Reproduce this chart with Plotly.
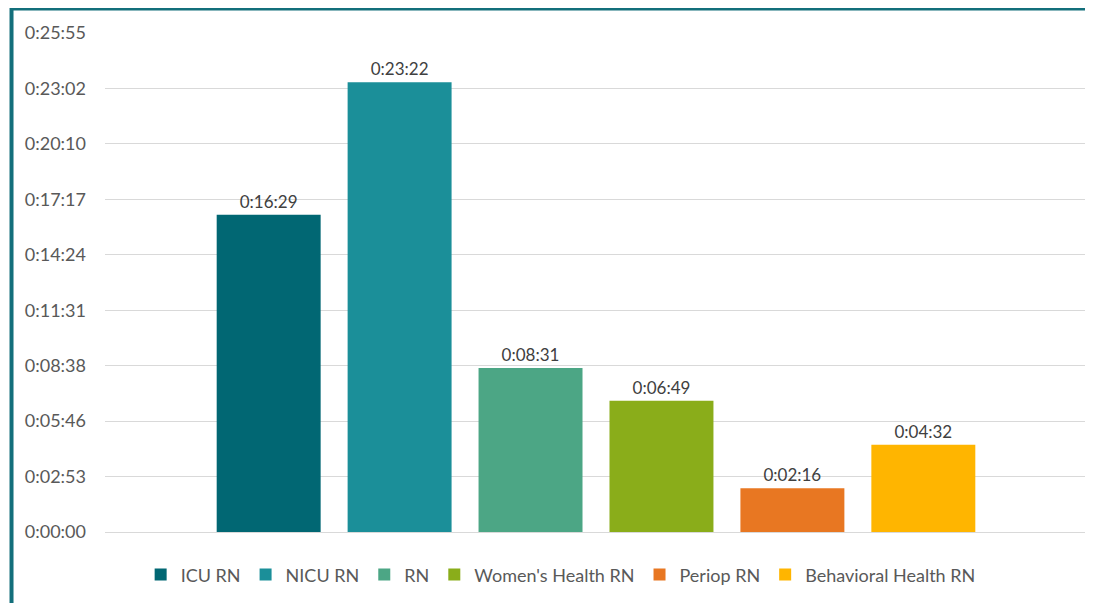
import plotly.graph_objects as go

# Tiempos promedio por rol (en segundos)
roles = ["ICU RN", "NICU RN", "RN", "Women's Health RN", "Periop RN", "Behavioral Health RN"]
segundos = [989, 1402, 511, 409, 136, 272]
colores = ["#016773", "#1B8F99", "#4CA685", "#8AAD1A", "#E87722", "#FFB500"]

# Marcas del eje y (paso de 0.002 días, como en Excel)
ticks_y = [0, 172.8, 345.6, 518.4, 691.2, 864.0, 1036.8, 1209.6, 1382.4, 1555.2]
etiquetas_y = ["0:00:00", "0:02:53", "0:05:46", "0:08:38", "0:11:31",
               "0:14:24", "0:17:17", "0:20:10", "0:23:02", "0:25:55"]


def hms(s):
    s = int(round(s))
    return "%d:%02d:%02d" % (s // 3600, (s % 3600) // 60, s % 60)


fig = go.Figure()

for rol, seg, col in zip(roles, segundos, colores):
    fig.add_trace(go.Bar(x=[""], y=[seg], name=rol, marker_color=col,
                         marker_line_width=0,
                         text=[hms(seg)], textposition="outside",
                         textfont=dict(color="#404040", size=17),
                         cliponaxis=False))

# La página añade 8px de margen, se compensa aquí
fig.update_layout(
    width=1093, height=603,
    margin=dict(l=97, r=14, t=25, b=79),
    paper_bgcolor="white", plot_bgcolor="white",
    font=dict(family="Lato, Open Sans, sans-serif", size=18, color="#595959"),
    barmode="group", bargap=0.2, bargroupgap=0.206,
    showlegend=True,
    legend=dict(orientation="h", x=0.464, xanchor="center", y=-0.086, yanchor="middle",
                font=dict(size=18, color="#595959"), itemwidth=30,
                traceorder="normal"),
    xaxis=dict(showticklabels=False, showgrid=False, zeroline=False, showline=False),
    yaxis=dict(range=[0, 1555.2], tickvals=ticks_y, ticktext=etiquetas_y,
               showgrid=True, gridcolor="#D9D9D9", gridwidth=1,
               zeroline=True, zerolinecolor="#D9D9D9", zerolinewidth=1,
               showline=False, ticks="", ticklabelstandoff=18),
)

# Marco del gráfico
fig.add_shape(type="rect", xref="paper", yref="paper",
              x0=-0.0952, x1=1.2, y0=-0.3, y1=1.049,
              line=dict(color="#136F7B", width=4), layer="above")

fig.write_html("out.html")
